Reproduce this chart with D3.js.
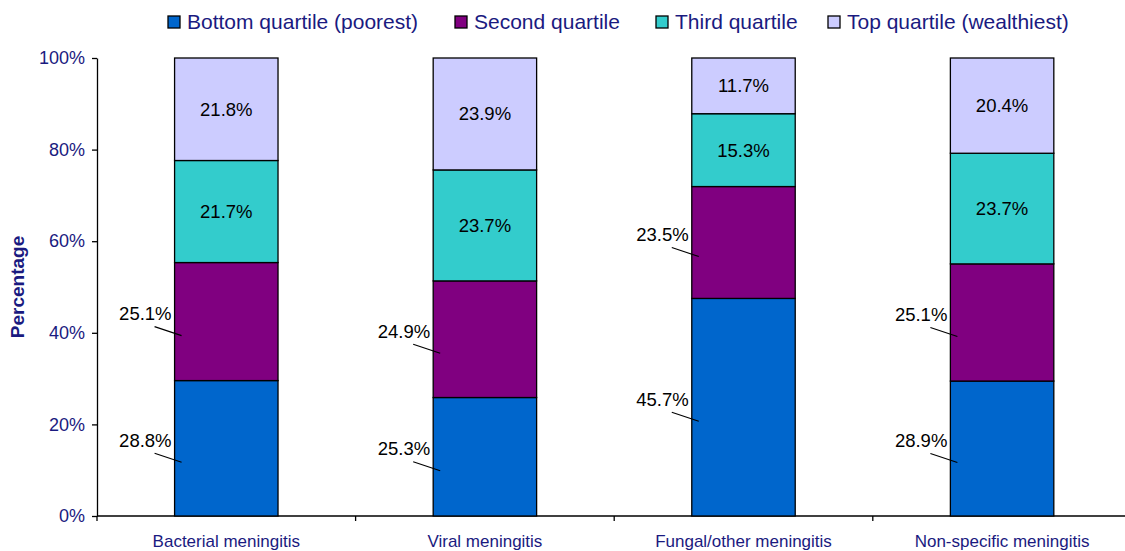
<!DOCTYPE html>
<html><head><meta charset="utf-8">
<script src="https://cdn.jsdelivr.net/npm/d3@7"></script>
<style>body{margin:0;background:#fff;}svg{display:block;font-family:"Liberation Sans",Arial,sans-serif;}</style>
</head><body>
<svg id="c" width="1125" height="551"></svg>
<script>
const categories = ["Bacterial meningitis","Viral meningitis","Fungal/other meningitis","Non-specific meningitis"];
const seriesNames = ["Bottom quartile (poorest)","Second quartile","Third quartile","Top quartile (wealthiest)"];
const bottomQ = [28.8, 25.3, 45.7, 28.9];
const secondQ = [25.1, 24.9, 23.5, 25.1];
const thirdQ = [21.7, 23.7, 15.3, 23.7];
const topQ = [21.8, 23.9, 11.7, 20.4];
const yTicks = [0, 20, 40, 60, 80, 100];
const colors = ["#0066CC", "#800080", "#33CCCC", "#CCCCFF"];
const navy = "#1a1a80";

const series = [bottomQ, secondQ, thirdQ, topQ];
const svg = d3.select("#c");
const m = {l: 97, t: 58, b: 516};
const step = 258.6;
const x = d3.scaleBand().domain(categories).range([m.l, m.l + step*4]).paddingInner(0.6).paddingOuter(0.3);
const y = d3.scaleLinear().domain([0, 100]).range([m.b, m.t]);

const rows = categories.map((c, i) => {
  const o = {cat: c};
  series.forEach((s, j) => o["s" + j] = s[i]);
  return o;
});
const keys = ["s0","s1","s2","s3"];
const stack = d3.stack().keys(keys).offset(d3.stackOffsetExpand);
const stacked = stack(rows);

const yAxis = d3.axisLeft(y).tickValues(yTicks).tickFormat(d => d + "%").tickSize(5).tickSizeOuter(0);
const gy = svg.append("g").attr("transform", `translate(${m.l},0)`).call(yAxis);
gy.select(".domain").attr("stroke", "#000").attr("stroke-width", 1.3);
gy.selectAll(".tick line").attr("stroke", "#000").attr("stroke-width", 1.3);
gy.selectAll(".tick text").attr("fill", navy).attr("font-size", 18).attr("x", -12).attr("font-family", "Liberation Sans, Arial, sans-serif");

const xBand = d3.scaleBand().domain(categories).range([m.l, m.l + step*4]);
const gx = svg.append("g").attr("transform", `translate(0,${m.b})`);
gx.append("line").attr("x1", m.l).attr("x2", m.l + step*4).attr("y1", 0).attr("y2", 0).attr("stroke", "#000").attr("stroke-width", 1.3);
d3.range(5).forEach(i => {
  const xx = m.l + step * i;
  gx.append("line").attr("x1", xx).attr("x2", xx).attr("y1", 0).attr("y2", 5).attr("stroke", "#000").attr("stroke-width", 1.3);
});
gx.selectAll("text.cat").data(categories).enter().append("text")
  .attr("x", d => xBand(d) + xBand.bandwidth()/2).attr("y", 25).attr("dy", "0.35em")
  .attr("text-anchor", "middle").attr("fill", navy).attr("font-size", 17).text(d => d);

stacked.forEach((layer, j) => {
  svg.append("g").selectAll("rect").data(layer).enter().append("rect")
    .attr("x", d => x(d.data.cat)).attr("width", x.bandwidth())
    .attr("y", d => y(d[1]*100)).attr("height", d => y(d[0]*100) - y(d[1]*100))
    .attr("fill", colors[j]).attr("stroke", "#000").attr("stroke-width", 1.3);
});

stacked.forEach((layer, j) => {
  layer.forEach((d, i) => {
    const val = series[j][i];
    const cy = (y(d[0]*100) + y(d[1]*100)) / 2;
    const bx = x(d.data.cat);
    if (j >= 2) {
      svg.append("text").attr("x", bx + x.bandwidth()/2).attr("y", cy).attr("dy", "0.35em")
        .attr("text-anchor", "middle").attr("font-size", 18.5).attr("fill", "#000").text(val.toFixed(1) + "%");
    } else {
      svg.append("text").attr("x", bx - 3).attr("y", cy - 8).attr("dy", "0.35em")
        .attr("text-anchor", "end").attr("font-size", 18.5).attr("fill", "#000").text(val.toFixed(1) + "%");
      svg.append("line").attr("x1", bx - 20).attr("y1", cy + 5).attr("x2", bx + 7).attr("y2", cy + 14)
        .attr("stroke", "#000").attr("stroke-width", 1.2);
    }
  });
});

svg.append("text").attr("transform", `translate(24,287) rotate(-90)`).attr("text-anchor", "middle")
  .attr("font-size", 19).attr("font-weight", "bold").attr("fill", navy).text("Percentage");

const legX = [168, 455, 656, 828];
const lg = svg.append("g");
seriesNames.forEach((n, i) => {
  lg.append("rect").attr("x", legX[i]).attr("y", 16).attr("width", 12).attr("height", 12)
    .attr("fill", colors[i]).attr("stroke", "#000").attr("stroke-width", 1.3);
  lg.append("text").attr("x", legX[i] + 19).attr("y", 22).attr("dy", "0.35em")
    .attr("font-size", 21).attr("fill", navy).text(n);
});
</script>
</body></html>
